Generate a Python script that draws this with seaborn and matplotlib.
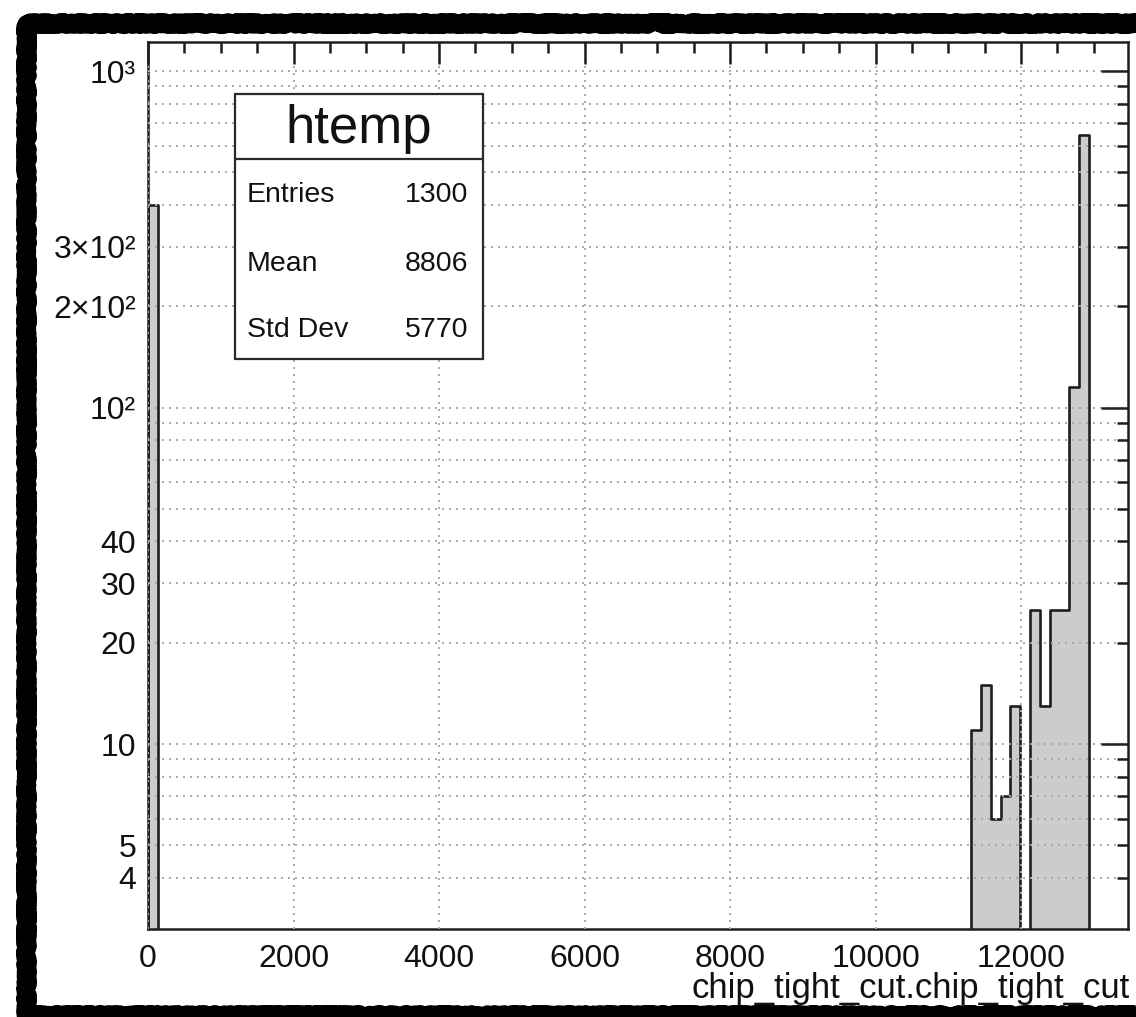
import numpy as np
import pandas as pd
import matplotlib
matplotlib.use("Agg")
import matplotlib.pyplot as plt
import seaborn as sns
from matplotlib.patches import Rectangle
from matplotlib.lines import Line2D
from matplotlib.ticker import FixedLocator, FuncFormatter, MultipleLocator

# ---- histogram content (htemp, 100 bins) ----
x_min, x_max, n_bins = 0.0, 13470.0, 100
filled_bins = [0, 84, 85, 86, 87, 88, 90, 91, 92, 93, 94, 95]
bin_counts = [400, 11, 15, 6, 7, 13, 25, 13, 25, 25, 115, 645]

# ---- axis decoration ----
x_major = [0, 2000, 4000, 6000, 8000, 10000, 12000]
y_major = [10, 100, 1000]
y_minor = [4, 5, 6, 7, 8, 9, 20, 30, 40, 50, 60, 70, 80, 90,
           200, 300, 400, 500, 600, 700, 800, 900]
y_tick_text = {4: "4", 5: "5", 10: "10", 20: "20", 30: "30", 40: "40",
               100: "10²", 200: "2×10²", 300: "3×10²", 1000: "10³"}
y_range = (2.82, 1220.0)
x_title = "chip_tight_cut.chip_tight_cut"

# ---- statistics box ----
stats_title = "htemp"
stats_names = ["Entries", "Mean", "Std Dev"]
stats_values = ["1300", "8806", "5770"]

W, H = 1136, 1017
sns.set_theme(style="white")
plt.rcParams["font.family"] = ["Liberation Sans", "DejaVu Sans"]

fig = plt.figure(figsize=(W / 100, H / 100), dpi=100)
fig.patch.set_facecolor("white")


def fx(px):
    return px / W


def fy(py):
    return 1 - py / H


ax_l, ax_r, ax_t, ax_b = 148, 1128, 42, 929
ax = fig.add_axes([fx(ax_l), fy(ax_b), fx(ax_r - ax_l), (ax_b - ax_t) / H])
ax.set_facecolor("white")

bin_width = (x_max - x_min) / n_bins
df = pd.DataFrame({
    "value": x_min + (np.array(filled_bins) + 0.5) * bin_width,
    "count": bin_counts,
})
sns.histplot(data=df, x="value", weights="count", bins=n_bins,
             binrange=(x_min, x_max), element="step", fill=True,
             color="#cccccc", edgecolor="#1e1e1e", linewidth=1.9,
             alpha=1.0, ax=ax)

ax.set_yscale("log")
ax.set_xlim(x_min, x_max)
ax.set_ylim(*y_range)

ax.xaxis.set_major_locator(FixedLocator(x_major))
ax.xaxis.set_minor_locator(MultipleLocator(500))
ax.xaxis.set_major_formatter(FuncFormatter(lambda v, p: f"{int(round(v))}"))
ax.yaxis.set_major_locator(FixedLocator(y_major))
ax.yaxis.set_minor_locator(FixedLocator(y_minor))
ylab = FuncFormatter(lambda v, p: y_tick_text.get(int(round(v)), ""))
ax.yaxis.set_major_formatter(ylab)
ax.yaxis.set_minor_formatter(ylab)

ax.set_xlabel("")
ax.set_ylabel("")

tick_col = "#1e1e1e"
ax.tick_params(axis="both", which="both", direction="in", top=True,
               right=True, color=tick_col, width=1.8, labelsize=23,
               labelcolor="#111111")
ax.tick_params(axis="x", which="major", length=16, pad=10.5)
ax.tick_params(axis="x", which="minor", length=8, pad=10.5)
ax.tick_params(axis="y", which="major", length=19.5, pad=8.5)
ax.tick_params(axis="y", which="minor", length=8, pad=8.5)

for s in ax.spines.values():
    s.set_color(tick_col)
    s.set_linewidth(1.8)
    s.set_visible(True)

grid_kw = dict(color="#a8a8a8", linewidth=1.4, linestyle=(0, (1, 2.6)))
ax.set_axisbelow(False)
ax.grid(True, axis="y", which="both", **grid_kw)
ax.grid(True, axis="x", which="major", **grid_kw)
ax.grid(False, axis="x", which="minor")

# axis title, right-aligned under the axis
fig.text(fx(ax_r + 2), fy(998), x_title, ha="right", va="baseline",
         fontsize=25, color="#111111")

# statistics box
bx_l, bx_r, bx_t, bx_b, bx_div = 235, 483, 94, 359, 159
box = Rectangle((fx(bx_l), fy(bx_b)), fx(bx_r - bx_l), (bx_b - bx_t) / H,
                transform=fig.transFigure, facecolor="white",
                edgecolor="#2a2a2a", linewidth=1.6, zorder=5)
fig.add_artist(box)
fig.add_artist(Line2D([fx(bx_l), fx(bx_r)], [fy(bx_div), fy(bx_div)],
                      transform=fig.transFigure, color="#2a2a2a",
                      linewidth=1.6, zorder=6))
fig.text(fx((bx_l + bx_r) / 2), fy(143), stats_title, ha="center",
         va="baseline", fontsize=38, color="#111111", zorder=7)
for name, val, base in zip(stats_names, stats_values, [202, 271, 337]):
    fig.text(fx(247), fy(base), name, ha="left", va="baseline",
             fontsize=20.5, color="#111111", zorder=7)
    fig.text(fx(468), fy(base), val, ha="right", va="baseline",
             fontsize=20.5, color="#111111", zorder=7)

# ragged paper edge around the figure
edge = Rectangle((fx(26), fy(1015)), fx(1250 - 26), (1015 - 23) / H,
                 transform=fig.transFigure, fill=False, edgecolor="black",
                 linewidth=12.5, zorder=10, joinstyle="round",
                 capstyle="round")
edge.set_sketch_params(scale=1.8, length=2.5, randomness=5.0)
fig.add_artist(edge)

fig.savefig("out.png", dpi=100)
